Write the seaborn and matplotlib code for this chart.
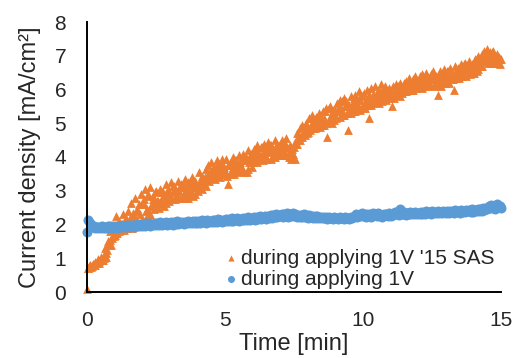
import numpy as np
import pandas as pd
import matplotlib
matplotlib.use("Agg")
import matplotlib.pyplot as plt
import seaborn as sns

# sampling interval of the logger [min]
step = 0.05

# current density with 15 s SAS [mA/cm2], one row per minute, read at t = k*step
sas_vals = [
    0.10, 0.72, 0.80, 0.75, 0.84, 0.80, 0.88, 0.86, 0.98, 0.92, 1.05, 0.95, 1.02, 1.30, 1.15, 1.50, 1.40, 1.80, 1.60, 1.95,
    1.75, 2.25, 1.90, 2.10, 2.00, 1.95, 2.30, 2.05, 2.20, 1.90, 2.40, 2.10, 2.65, 1.95, 2.25, 2.80, 2.40, 2.00, 2.60, 2.90,
    2.15, 2.75, 3.05, 2.40, 2.90, 2.30, 3.10, 2.60, 2.85, 2.55, 3.00, 2.70, 2.65, 3.05, 2.80, 2.95, 2.75, 3.20, 2.90, 3.05,
    2.85, 3.25, 2.95, 3.15, 3.05, 2.90, 3.30, 3.00, 3.20, 3.10, 2.90, 3.35, 3.05, 3.25, 3.15, 3.00, 3.40, 3.10, 3.30, 3.20,
    3.10, 3.55, 3.25, 3.45, 3.35, 3.20, 3.65, 3.45, 3.75, 3.55, 3.85, 3.50, 3.70, 3.60, 3.90, 3.55, 3.80, 3.65, 3.95, 3.70,
    3.60, 3.95, 3.20, 3.75, 3.85, 3.65, 4.00, 3.80, 3.90, 3.70, 4.05, 3.85, 3.67, 4.10, 3.90, 4.00, 3.55, 4.20, 3.95, 4.10,
    3.95, 4.25, 4.05, 4.35, 4.15, 3.95, 4.30, 4.10, 4.40, 4.20, 4.00, 4.45, 4.15, 4.35, 4.25, 4.05, 4.50, 4.20, 4.40, 4.30,
    4.15, 4.50, 4.25, 4.40, 4.55, 4.30, 4.05, 4.35, 4.20, 4.10, 4.30, 4.45, 4.70, 4.50, 4.85, 4.60, 4.95, 4.75, 4.65, 5.00,
    4.85, 5.15, 4.95, 5.25, 5.05, 4.90, 5.20, 5.00, 5.30, 5.10, 4.95, 5.35, 5.15, 5.45, 4.60, 5.05, 5.50, 5.25, 5.40, 5.10,
    5.25, 5.60, 5.35, 5.70, 5.45, 5.30, 5.75, 5.50, 5.65, 4.80, 5.40, 5.80, 5.55, 5.35, 5.85, 5.60, 5.45, 5.95, 5.70, 5.80,
    5.55, 5.90, 5.65, 6.00, 5.15, 5.75, 6.05, 5.85, 5.70, 6.10, 5.80, 5.95, 5.75, 6.15, 5.90, 5.80, 6.10, 5.95, 5.85, 6.05,
    5.85, 5.50, 6.10, 5.95, 6.15, 5.90, 6.05, 6.20, 5.95, 6.10, 6.00, 6.25, 6.05, 6.35, 6.15, 6.00, 6.30, 6.20, 6.40, 6.10,
    6.15, 6.40, 6.25, 6.45, 6.30, 6.20, 6.50, 6.35, 6.15, 6.45, 6.30, 6.55, 6.20, 6.40, 5.85, 6.25, 6.55, 6.35, 6.45, 6.60,
    6.30, 6.55, 6.40, 6.65, 6.50, 6.35, 6.00, 6.70, 6.45, 6.60, 6.40, 6.75, 6.55, 6.45, 6.80, 6.60, 6.50, 6.85, 6.65, 6.75,
    6.55, 6.90, 6.65, 7.00, 6.80, 6.70, 7.05, 6.90, 7.15, 6.85, 7.20, 7.00, 7.10, 6.90, 7.15, 7.00, 6.85, 7.05, 6.95, 6.90,
    6.90,
]

# same run, readings in between, at t = k*step + step/2
sas_mid = [
    0.70, 0.76, 0.80, 0.76, 0.84, 0.80, 0.86, 0.90, 0.86, 0.96, 1.00, 0.95, 1.10, 1.05, 1.25, 1.40, 1.55, 1.40, 1.70, 1.65,
    1.70, 1.75, 1.95, 1.80, 1.85, 2.00, 1.85, 2.10, 1.90, 2.05, 1.95, 2.20, 1.90, 2.35, 2.00, 2.15, 2.45, 1.95, 2.30, 2.60,
    2.10, 2.60, 2.20, 2.45, 2.85, 2.30, 2.55, 2.75, 2.45, 2.95, 2.55, 2.70, 2.50, 2.65, 2.95, 2.55, 2.80, 2.65, 3.00, 2.70,
    2.80, 2.75, 3.15, 2.75, 3.00, 2.85, 2.80, 3.10, 2.80, 3.20, 2.85, 2.80, 3.00, 2.80, 3.25, 2.90, 2.85, 3.30, 2.90, 3.15,
    3.00, 3.10, 3.35, 3.05, 3.25, 3.40, 3.15, 3.45, 3.30, 3.55, 3.40, 3.65, 3.35, 3.70, 3.45, 3.60, 3.40, 3.75, 3.50, 3.55,
    3.50, 3.45, 3.75, 3.50, 3.85, 3.55, 3.50, 3.90, 3.55, 3.80, 3.60, 3.95, 3.60, 3.55, 3.90, 3.95, 3.65, 3.85, 4.10, 3.70,
    3.85, 3.90, 4.20, 3.85, 4.10, 3.95, 4.30, 3.90, 4.15, 4.00, 3.95, 4.20, 4.35, 3.95, 4.25, 4.05, 4.00, 4.35, 4.05, 4.40,
    4.10, 4.05, 4.45, 4.05, 4.30, 4.10, 4.00, 3.95, 4.25, 4.00, 3.95, 4.40, 4.40, 4.65, 4.50, 4.60, 4.70, 4.75, 4.90, 4.70,
    4.75, 4.80, 5.15, 4.85, 5.05, 4.85, 4.90, 5.20, 4.90, 4.95, 5.10, 4.95, 5.35, 5.00, 5.05, 5.45, 5.10, 5.00, 5.20, 5.40,
    5.15, 5.35, 5.45, 5.20, 5.65, 5.25, 5.25, 5.50, 5.30, 5.55, 5.35, 5.30, 5.60, 5.75, 5.35, 5.60, 5.70, 5.40, 5.85, 5.45,
    5.50, 5.45, 5.70, 5.55, 5.80, 5.55, 5.60, 5.85, 5.65, 5.70, 5.90, 5.60, 5.95, 5.65, 5.85, 6.05, 5.70, 5.85, 6.00, 5.75,
    5.80, 5.85, 5.75, 5.95, 5.85, 6.10, 5.80, 6.00, 5.90, 6.20, 5.95, 5.95, 6.10, 6.00, 6.20, 6.05, 6.00, 6.25, 6.05, 6.20,
    6.10, 6.25, 6.05, 6.40, 6.10, 6.25, 6.10, 6.35, 6.15, 6.30, 6.45, 6.10, 6.35, 6.15, 6.40, 6.20, 6.10, 6.40, 6.45, 6.20,
    6.25, 6.55, 6.20, 6.45, 6.30, 6.30, 6.50, 6.35, 6.65, 6.35, 6.55, 6.40, 6.60, 6.75, 6.40, 6.60, 6.80, 6.45, 6.70, 6.50,
    6.50, 6.75, 6.55, 6.60, 6.85, 6.95, 6.70, 6.85, 6.95, 7.15, 6.80, 7.00, 6.80, 7.10, 6.80, 7.00, 6.80, 6.80, 6.95, 6.75,
]

# current density, 1V only [mA/cm2], at t = k*step
v1_vals = [
    1.78, 2.12, 2.05, 1.98, 1.92, 1.95, 1.90, 1.94, 1.89, 1.93, 1.90, 1.95, 1.89, 1.94, 1.91, 1.95, 1.90, 1.96, 1.91, 1.95,
    1.92, 1.97, 1.91, 1.96, 1.93, 1.98, 1.92, 1.97, 1.94, 1.99, 1.93, 1.98, 1.95, 2.00, 1.94, 1.99, 1.96, 2.01, 1.95, 2.00,
    1.97, 2.02, 1.96, 2.03, 1.98, 2.04, 1.97, 2.02, 1.99, 2.05, 1.98, 2.03, 2.00, 2.06, 1.99, 2.04, 2.01, 2.06, 2.00, 2.05,
    2.01, 2.07, 2.00, 2.06, 2.02, 2.10, 2.01, 2.07, 2.03, 2.08, 2.02, 2.06, 2.04, 2.09, 2.03, 2.08, 2.05, 2.10, 2.04, 2.09,
    2.05, 2.11, 2.04, 2.12, 2.06, 2.10, 2.05, 2.13, 2.07, 2.11, 2.06, 2.14, 2.08, 2.12, 2.07, 2.15, 2.09, 2.13, 2.08, 2.14,
    2.10, 2.16, 2.09, 2.15, 2.11, 2.18, 2.10, 2.16, 2.12, 2.19, 2.11, 2.17, 2.13, 2.20, 2.12, 2.18, 2.14, 2.21, 2.13, 2.19,
    2.15, 2.22, 2.14, 2.21, 2.17, 2.24, 2.16, 2.23, 2.18, 2.26, 2.17, 2.25, 2.20, 2.28, 2.19, 2.27, 2.22, 2.30, 2.21, 2.28,
    2.24, 2.32, 2.22, 2.30, 2.25, 2.34, 2.23, 2.31, 2.26, 2.33, 2.24, 2.30, 2.22, 2.28, 2.21, 2.29, 2.23, 2.30, 2.22, 2.27,
    2.20, 2.27, 2.21, 2.26, 2.19, 2.24, 2.20, 2.25, 2.18, 2.23, 2.19, 2.22, 2.18, 2.21, 2.17, 2.21, 2.18, 2.20, 2.17, 2.21,
    2.18, 2.20, 2.17, 2.21, 2.18, 2.20, 2.17, 2.21, 2.18, 2.20, 2.17, 2.22, 2.18, 2.21, 2.24, 2.30, 2.22, 2.28, 2.25, 2.33,
    2.24, 2.30, 2.22, 2.32, 2.26, 2.31, 2.23, 2.34, 2.27, 2.30, 2.24, 2.33, 2.26, 2.29, 2.23, 2.32, 2.27, 2.30, 2.25, 2.33,
    2.26, 2.31, 2.28, 2.36, 2.30, 2.34, 2.28, 2.45, 2.32, 2.30, 2.36, 2.29, 2.34, 2.31, 2.38, 2.30, 2.35, 2.32, 2.37, 2.31,
    2.34, 2.30, 2.38, 2.32, 2.36, 2.31, 2.39, 2.33, 2.37, 2.32, 2.40, 2.34, 2.38, 2.33, 2.41, 2.35, 2.38, 2.33, 2.40, 2.36,
    2.34, 2.39, 2.35, 2.41, 2.36, 2.40, 2.34, 2.42, 2.37, 2.40, 2.35, 2.43, 2.38, 2.41, 2.36, 2.44, 2.39, 2.42, 2.37, 2.45,
    2.38, 2.44, 2.40, 2.46, 2.39, 2.45, 2.41, 2.48, 2.43, 2.50, 2.45, 2.55, 2.48, 2.58, 2.50, 2.56, 2.47, 2.60, 2.52, 2.55,
    2.50,
]

lab_sas = "during applying 1V '15 SAS"
lab_v1 = "during applying 1V"

df_sas = pd.concat([
    pd.DataFrame({"t": np.arange(len(sas_vals)) * step, "j": sas_vals}),
    pd.DataFrame({"t": np.arange(len(sas_mid)) * step + step / 2, "j": sas_mid}),
]).sort_values("t")
df_v1 = pd.DataFrame({"t": np.arange(len(v1_vals)) * step, "j": v1_vals})

sns.set_style("white")
plt.rcParams["font.family"] = ["Liberation Sans", "DejaVu Sans"]

fig = plt.figure(figsize=(5.18, 3.58), dpi=100)
ax = fig.add_axes([87 / 518, 1 - 292 / 358, 414 / 518, 270 / 358])

sns.scatterplot(data=df_sas, x="t", y="j", ax=ax, marker="^", s=40,
                color="#ED7D31", linewidth=0, label=lab_sas, clip_on=False)
sns.scatterplot(data=df_v1, x="t", y="j", ax=ax, marker="o", s=52,
                color="#5B9BD5", linewidth=0, label=lab_v1, clip_on=False)

ax.set_xlim(0, 15)
ax.set_ylim(0, 8)
ax.set_xticks([0, 5, 10, 15])
ax.set_yticks(range(0, 9))
ax.tick_params(axis="both", length=0, labelsize=15)
ax.tick_params(axis="x", pad=14)
ax.tick_params(axis="y", pad=15)

for side in ["top", "right"]:
    ax.spines[side].set_visible(False)
for side in ["left", "bottom"]:
    ax.spines[side].set_color("black")
    ax.spines[side].set_linewidth(1.4)

ax.set_xlabel("Time [min]", fontsize=17, labelpad=2)
ax.set_ylabel("Current density [mA/cm²]", fontsize=17, labelpad=10)

ax.legend(loc="upper left", bbox_to_anchor=(0.3325, 0.161), frameon=False,
          fontsize=15, handletextpad=0.2, borderaxespad=0, borderpad=0,
          labelspacing=0.1, handlelength=0.6, markerscale=0.7)

fig.savefig("out.png", dpi=100)
